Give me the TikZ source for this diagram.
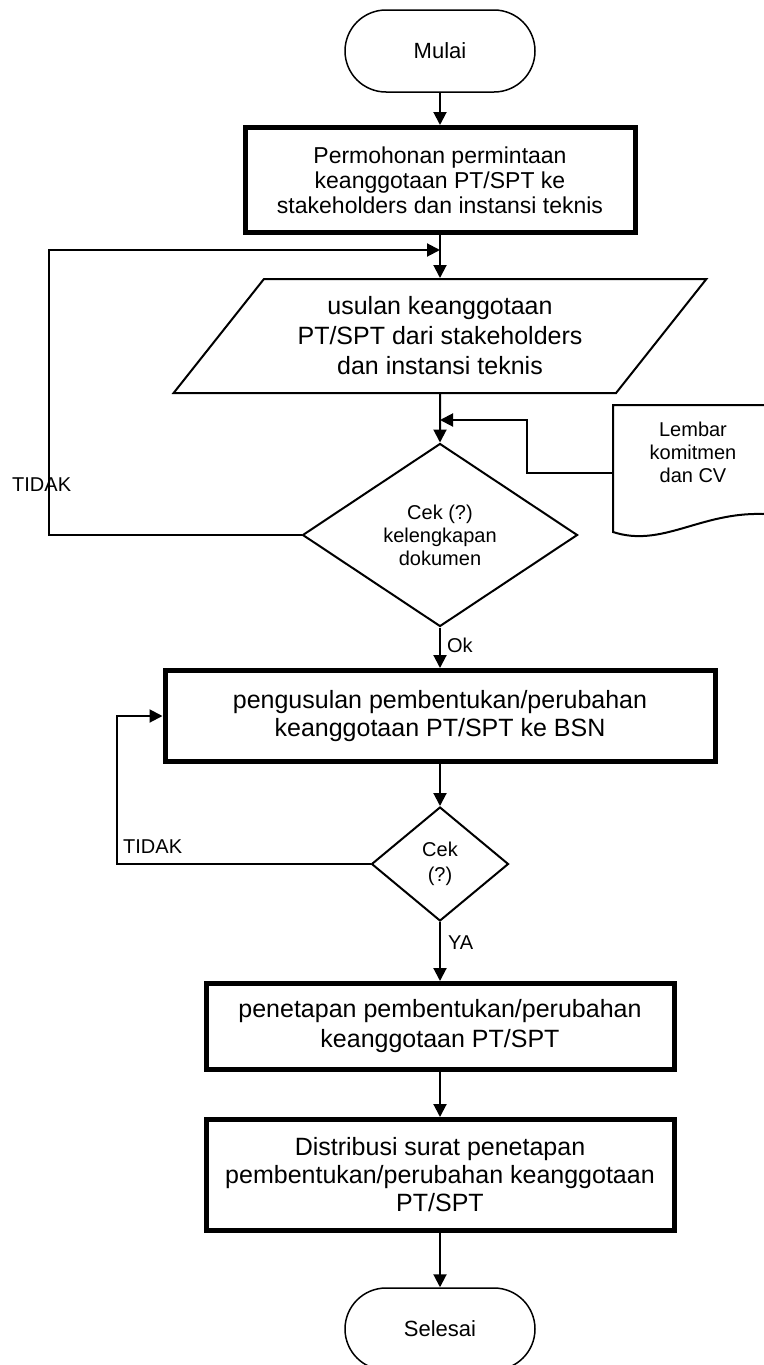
\documentclass[tikz,border=0pt]{standalone}
\usepackage{fontspec}
\setmainfont{Liberation Sans}
\usetikzlibrary{shapes.geometric,arrows.meta}
\begin{document}
\begin{tikzpicture}[x=1pt,y=-1pt]
\tikzstyle{term}=[draw,line width=1.5pt,rounded corners=41pt,minimum width=190pt,minimum height=82pt,font=\fontsize{22}{26}\selectfont]
\tikzstyle{proc}=[draw,line width=5pt,align=center,inner sep=0pt,font=\fontsize{25}{28}\selectfont]
\tikzstyle{io}=[draw,line width=2pt,trapezium,trapezium left angle=47,trapezium right angle=133,trapezium stretches=true,minimum width=533pt,minimum height=114pt,inner sep=0pt,align=center,font=\fontsize{25}{30}\selectfont]
\tikzstyle{cek}=[draw,line width=2pt,diamond,aspect=1.5,inner sep=0pt,align=center,font=\fontsize{20}{23}\selectfont]
\tikzstyle{lbl}=[anchor=west,inner sep=0pt,font=\fontsize{20}{23}\selectfont]
\tikzstyle{arr}=[line width=2pt,-{Triangle[length=13pt,width=13pt]}]
\useasboundingbox (0,0) rectangle (763,1365);
\node[term] at (440,51) (mulai) {Mulai};
\node[proc,minimum width=390pt,minimum height=105pt,font=\fontsize{23}{25}\selectfont] at (440,180) (box1) {Permohonan permintaan\\keanggotaan PT/SPT ke\\stakeholders dan instansi teknis};
\node[io] at (440,336) (usulan) {usulan keanggotaan\\PT/SPT dari stakeholders\\dan instansi teknis};
\node[cek,minimum width=275pt,minimum height=183pt] at (440,535) (cek1) {Cek (?)\\kelengkapan\\dokumen};
\node[proc,minimum width=550pt,minimum height=91pt] at (440,716) (box2) {pengusulan pembentukan/perubahan\\keanggotaan PT/SPT ke BSN};
\node[cek,minimum width=137pt,minimum height=114pt,font=\fontsize{20}{25}\selectfont] at (440,864) (cek2) {Cek\\(?)};
\node[proc,minimum width=468pt,minimum height=86pt,font=\fontsize{25}{30}\selectfont] at (440,1026.5) (box3) {penetapan pembentukan/perubahan\\keanggotaan PT/SPT};
\node[proc,minimum width=468pt,minimum height=111pt] at (440,1175) (box4) {Distribusi surat penetapan\\pembentukan/perubahan keanggotaan\\PT/SPT};
\node[term] at (440,1329) (selesai) {Selesai};
% lembar komitmen
\draw[line width=2pt] (613,405) -- (790,405) -- (790,513) -- (763,514) .. controls (700,512) and (662,548) .. (613,532) -- cycle;
\node[align=center,inner sep=0pt,font=\fontsize{20}{23}\selectfont] at (693,452) (lembar) {Lembar\\komitmen\\dan CV};
\coordinate (doc) at (613,473);
\coordinate (join1) at (440,250);
\coordinate (join2) at (440,420);
\coordinate (bend2) at (527,420);
\coordinate (tidak1) at (49,250);
\coordinate (tidak2) at (117,716);
\draw[arr] (mulai) -- (box1);
\draw[arr] (box1) -- (usulan);
\draw[arr] (usulan) -- (cek1);
\draw[arr] (cek1) -- (box2) node[lbl,pos=0.45,xshift=6pt] {Ok};
\draw[arr] (box2) -- (cek2);
\draw[arr] (cek2) -- (box3) node[lbl,pos=0.35,xshift=7pt] {YA};
\draw[arr] (box3) -- (box4);
\draw[arr] (box4) -- (selesai);
\draw[arr] (cek1.west) -| (tidak1) -- (join1);
\draw[arr] (cek2.west) -| (tidak2) -- (box2.west);
\draw[arr] (doc) -| (bend2) -- (join2);
\node[lbl] at (12,485) (no1) {TIDAK};
\node[lbl] at (123,847) (no2) {TIDAK};
\end{tikzpicture}
\end{document}
